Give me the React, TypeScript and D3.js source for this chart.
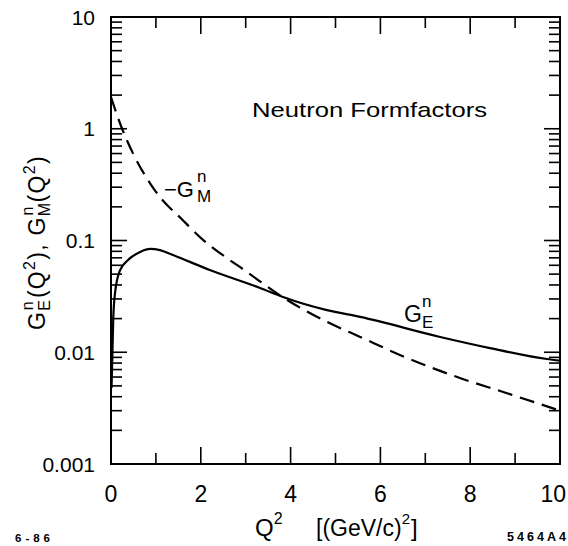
import React from "react";
import * as d3 from "d3";

// ---- data ----
const Q2_E = [0.012, 0.05, 0.09, 0.2, 0.38, 0.65, 0.87, 1.09, 1.31, 2.2, 3.32, 3.83, 4.81, 5.55, 7.33, 8.44, 9.71, 10];
const GE = [0.0048, 0.02, 0.034, 0.054, 0.067, 0.079, 0.084, 0.082, 0.076, 0.0545, 0.0376, 0.0312, 0.0238, 0.0207, 0.0137, 0.0109, 0.0087, 0.0084];

const Q2_M = [0, 0.2, 0.5, 0.87, 1.09, 1.6, 2.03, 2.58, 2.87, 3.83, 4.81, 5.55, 6.59, 7.71, 8.82, 10];
const GM = [1.92, 1.12, 0.59, 0.325, 0.245, 0.152, 0.103, 0.0697, 0.058, 0.031, 0.0187, 0.0137, 0.0089, 0.006, 0.0043, 0.003];

const X_MAJOR = [0, 2, 4, 6, 8, 10];
const X_MINOR = [1, 3, 5, 7, 9];
const X_LABELS = ["0", "2", "4", "6", "8", "10"];
const Y_DECADES = [0.001, 0.01, 0.1, 1, 10];
const Y_LABELS = ["0.001", "0.01", "0.1", "1", "10"];

const W = 568;
const H = 546;
const L = 111, R = 560, T = 17, B = 464;
const FONT = "'Liberation Sans', Arial, sans-serif";

export default function App() {
  const x = d3.scaleLinear().domain([0, 10]).range([L, R]);
  const y = d3.scaleLog().domain([0.001, 10]).range([B, T]);
  const line = d3
    .line<[number, number]>()
    .x((d) => x(d[0]))
    .y((d) => y(d[1]))
    .curve(d3.curveMonotoneX);

  const ePts: [number, number][] = Q2_E.map((q, i) => [q, GE[i]]);
  const mPts: [number, number][] = Q2_M.map((q, i) => [q, GM[i]]);

  const yTicks = y.ticks();
  const isDecade = (v: number) => Math.abs(Math.log10(v) - Math.round(Math.log10(v))) < 1e-6;

  const tickSW = 1.6;
  const xMajLen = 17, xMinLen = 11, yMajLen = 16, yMinLen = 11;

  return (
    <svg width={W} height={H} style={{ position: "absolute", left: 0, top: 0, background: "#fff" }} fontFamily={FONT}>
      <rect x={0} y={0} width={W} height={H} fill="#fff" />
      {/* ticks x (bottom and top) */}
      {X_MAJOR.map((v) => (
        <g key={"xM" + v}>
          <line x1={x(v)} x2={x(v)} y1={B} y2={B - xMajLen} stroke="#000" strokeWidth={tickSW} />
          <line x1={x(v)} x2={x(v)} y1={T} y2={T + xMajLen} stroke="#000" strokeWidth={tickSW} />
        </g>
      ))}
      {X_MINOR.map((v) => (
        <g key={"xm" + v}>
          <line x1={x(v)} x2={x(v)} y1={B} y2={B - xMinLen} stroke="#000" strokeWidth={tickSW} />
          <line x1={x(v)} x2={x(v)} y1={T} y2={T + xMinLen} stroke="#000" strokeWidth={tickSW} />
        </g>
      ))}
      {/* ticks y (left and right) */}
      {yTicks.map((v, i) => {
        const len = isDecade(v) ? yMajLen : yMinLen;
        return (
          <g key={"y" + i}>
            <line x1={L} x2={L + len} y1={y(v)} y2={y(v)} stroke="#000" strokeWidth={tickSW} />
            <line x1={R} x2={R - len} y1={y(v)} y2={y(v)} stroke="#000" strokeWidth={tickSW} />
          </g>
        );
      })}
      {/* frame */}
      <rect x={L} y={T} width={R - L} height={B - T} fill="none" stroke="#000" strokeWidth={2} />

      {/* curves */}
      <path d={line(mPts) || ""} fill="none" stroke="#000" strokeWidth={2.2} strokeDasharray="15 8" />
      <path d={line(ePts) || ""} fill="none" stroke="#000" strokeWidth={2.2} />

      {/* x tick labels */}
      {X_MAJOR.map((v, i) => {
        const last = i === X_MAJOR.length - 1;
        return (
          <text
            key={"xl" + v}
            x={last ? 566 : x(v)}
            y={502}
            fontSize={23}
            textAnchor={last ? "end" : "middle"}
          >
            {X_LABELS[i]}
          </text>
        );
      })}
      {/* y tick labels */}
      {Y_DECADES.map((v, i) => (
        <text key={"yl" + v} x={95} y={y(v)} fontSize={21} textAnchor="end" dominantBaseline="central">
          {Y_LABELS[i]}
        </text>
      ))}

      {/* title */}
      <text x={252} y={117} fontSize={21} textLength={235} lengthAdjust="spacingAndGlyphs">
        Neutron Formfactors
      </text>

      {/* -G_M^n label */}
      <text x={164} y={197} fontSize={22}>−G</text>
      <text x={197} y={202} fontSize={17}>M</text>
      <text x={197} y={182} fontSize={17}>n</text>

      {/* G_E^n label */}
      <text x={404} y={322} fontSize={23}>G</text>
      <text x={422} y={328} fontSize={17}>E</text>
      <text x={422} y={307} fontSize={17}>n</text>

      {/* y axis title */}
      <g transform="translate(45,330) rotate(-90)">
        <text x={0} y={0} fontSize={23} letterSpacing={1.3}>
          G
          <tspan fontSize={16} dy={5}>E</tspan>
          <tspan fontSize={16} dx={-11.5} dy={-17}>n</tspan>
          <tspan fontSize={23} dx={2} dy={12}>(Q</tspan>
          <tspan fontSize={16} dy={-10}>2</tspan>
          <tspan fontSize={23} dy={10}>), G</tspan>
          <tspan fontSize={16} dy={5}>M</tspan>
          <tspan fontSize={16} dx={-14} dy={-17}>n</tspan>
          <tspan fontSize={23} dx={3} dy={12}>(Q</tspan>
          <tspan fontSize={16} dy={-10}>2</tspan>
          <tspan fontSize={23} dy={10}>)</tspan>
        </text>
      </g>

      {/* x axis title */}
      <text x={255} y={536} fontSize={24}>
        Q<tspan fontSize={16} dy={-12}>2</tspan>
      </text>
      <text x={316} y={536} fontSize={23}>
        [(GeV/c)<tspan fontSize={15} dy={-12}>2</tspan>
        <tspan fontSize={24} dx={1} dy={12}>]</tspan>
      </text>

      {/* corner codes */}
      <text x={15} y={542} fontSize={11.5} fontWeight="bold" textLength={35} lengthAdjust="spacing">6-86</text>
      <text x={507} y={541} fontSize={12.5} fontWeight="bold" textLength={59} lengthAdjust="spacing">5464A4</text>
    </svg>
  );
}
